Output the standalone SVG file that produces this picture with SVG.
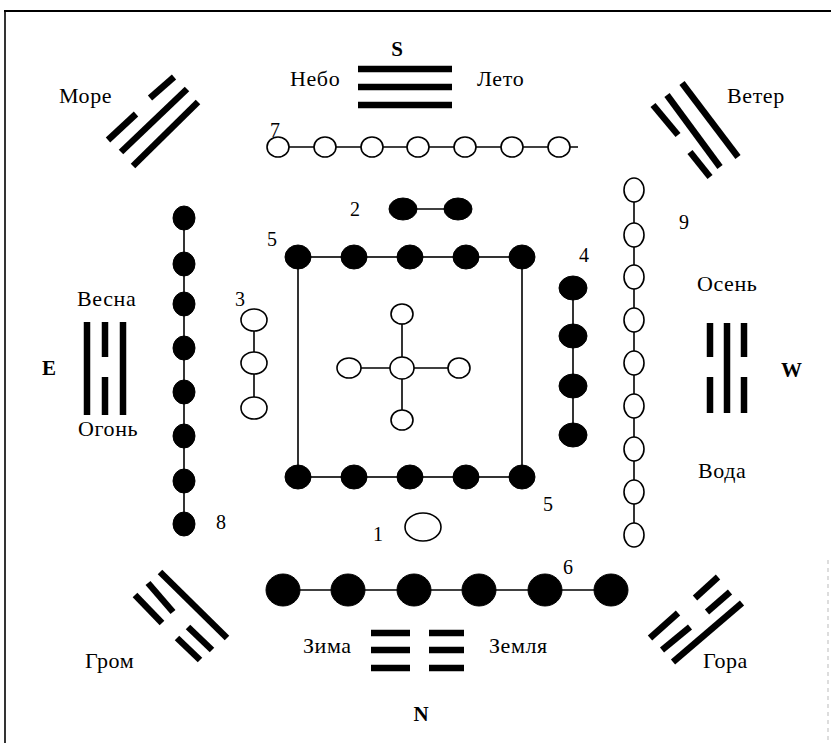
<svg xmlns="http://www.w3.org/2000/svg" width="831" height="743" viewBox="0 0 831 743">
<style>
text{font-family:"Liberation Serif","Times New Roman",serif;font-size:22px;letter-spacing:0.6px;fill:#000}
.b{font-weight:bold;font-size:21px;letter-spacing:0}
.n{font-size:20px;letter-spacing:0}
.o{fill:#fff;stroke:#000;stroke-width:1.6}
.f{fill:#000;stroke:#000;stroke-width:1}
.c{stroke:#000;stroke-width:1.6;fill:none}
.t{stroke:#000;stroke-width:6.5;stroke-linecap:butt;fill:none}
</style>
<rect width="831" height="743" fill="#fff"/>
<g id="frame">
<line x1="4" y1="11" x2="831" y2="11" stroke="#000" stroke-width="1.8"/>
<line x1="5" y1="11" x2="5" y2="743" stroke="#000" stroke-width="1.6"/>
<line x1="828" y1="560" x2="828" y2="743" stroke="#bbb" stroke-width="1" stroke-dasharray="4 4"/>
</g>
<g id="connectors">
<line class="c" x1="278" y1="147" x2="578" y2="147"/>
<line class="c" x1="403" y1="209" x2="458" y2="209"/>
<rect class="c" x="298" y="257" width="224" height="220"/>
<line class="c" x1="573" y1="288" x2="573" y2="435"/>
<line class="c" x1="254" y1="320" x2="254" y2="408"/>
<line class="c" x1="402" y1="314" x2="402" y2="420"/>
<line class="c" x1="349" y1="368" x2="459" y2="368"/>
<line class="c" x1="184" y1="218" x2="184" y2="524"/>
<line class="c" x1="634" y1="190" x2="634" y2="535"/>
<line class="c" x1="283" y1="590" x2="611" y2="590"/>
</g>
<g id="chain7">
<ellipse class="o" cx="278" cy="147" rx="11" ry="10"/>
<ellipse class="o" cx="325" cy="147" rx="11" ry="10"/>
<ellipse class="o" cx="372" cy="147" rx="11" ry="10"/>
<ellipse class="o" cx="418" cy="147" rx="11" ry="10"/>
<ellipse class="o" cx="465" cy="147" rx="11" ry="10"/>
<ellipse class="o" cx="512" cy="147" rx="11" ry="10"/>
<ellipse class="o" cx="559" cy="147" rx="11" ry="10"/>
</g>
<g id="chain2">
<ellipse class="f" cx="403" cy="209" rx="14" ry="11"/>
<ellipse class="f" cx="458" cy="209" rx="14" ry="11"/>
</g>
<g id="square5">
<ellipse class="f" cx="298" cy="257" rx="13" ry="12"/>
<ellipse class="f" cx="354" cy="257" rx="13" ry="12"/>
<ellipse class="f" cx="410" cy="257" rx="13" ry="12"/>
<ellipse class="f" cx="466" cy="257" rx="13" ry="12"/>
<ellipse class="f" cx="522" cy="257" rx="13" ry="12"/>
<ellipse class="f" cx="298" cy="477" rx="13" ry="12"/>
<ellipse class="f" cx="354" cy="477" rx="13" ry="12"/>
<ellipse class="f" cx="410" cy="477" rx="13" ry="12"/>
<ellipse class="f" cx="466" cy="477" rx="13" ry="12"/>
<ellipse class="f" cx="522" cy="477" rx="13" ry="12"/>
</g>
<g id="chain4">
<ellipse class="f" cx="573" cy="288" rx="14" ry="12"/>
<ellipse class="f" cx="573" cy="336" rx="14" ry="12"/>
<ellipse class="f" cx="573" cy="386" rx="14" ry="12"/>
<ellipse class="f" cx="573" cy="435" rx="14" ry="12"/>
</g>
<g id="chain3">
<ellipse class="o" cx="254" cy="320" rx="13" ry="11"/>
<ellipse class="o" cx="254" cy="363" rx="13" ry="11"/>
<ellipse class="o" cx="254" cy="408" rx="13" ry="11"/>
</g>
<g id="cross">
<ellipse class="o" cx="402" cy="314" rx="11" ry="10"/>
<ellipse class="o" cx="402" cy="420" rx="11" ry="10"/>
<ellipse class="o" cx="349" cy="368" rx="12" ry="10"/>
<ellipse class="o" cx="459" cy="368" rx="11" ry="10"/>
<ellipse class="o" cx="402" cy="368" rx="12" ry="11"/>
</g>
<g id="chain8">
<ellipse class="f" cx="184" cy="218" rx="11" ry="12"/>
<ellipse class="f" cx="184" cy="264" rx="11" ry="12"/>
<ellipse class="f" cx="184" cy="304" rx="11" ry="12"/>
<ellipse class="f" cx="184" cy="348" rx="11" ry="12"/>
<ellipse class="f" cx="184" cy="392" rx="11" ry="12"/>
<ellipse class="f" cx="184" cy="436" rx="11" ry="12"/>
<ellipse class="f" cx="184" cy="481" rx="11" ry="12"/>
<ellipse class="f" cx="184" cy="524" rx="11" ry="12"/>
</g>
<g id="chain9">
<ellipse class="o" cx="634" cy="190" rx="10" ry="12"/>
<ellipse class="o" cx="634" cy="235" rx="10" ry="12"/>
<ellipse class="o" cx="634" cy="277" rx="10" ry="12"/>
<ellipse class="o" cx="634" cy="320" rx="10" ry="12"/>
<ellipse class="o" cx="634" cy="363" rx="10" ry="12"/>
<ellipse class="o" cx="634" cy="406" rx="10" ry="12"/>
<ellipse class="o" cx="634" cy="449" rx="10" ry="12"/>
<ellipse class="o" cx="634" cy="492" rx="10" ry="12"/>
<ellipse class="o" cx="634" cy="535" rx="10" ry="12"/>
</g>
<g id="node1">
<ellipse class="o" cx="423" cy="527" rx="18" ry="14"/>
</g>
<g id="chain6">
<ellipse class="f" cx="283" cy="590" rx="17" ry="16"/>
<ellipse class="f" cx="348" cy="590" rx="17" ry="16"/>
<ellipse class="f" cx="414" cy="590" rx="17" ry="16"/>
<ellipse class="f" cx="479" cy="590" rx="17" ry="16"/>
<ellipse class="f" cx="545" cy="590" rx="17" ry="16"/>
<ellipse class="f" cx="611" cy="590" rx="17" ry="16"/>
</g>
<g id="trigram-s">
<line class="t" x1="358" y1="69" x2="452" y2="69"/>
<line class="t" x1="358" y1="87" x2="452" y2="87"/>
<line class="t" x1="358" y1="105" x2="452" y2="105"/>
</g>
<g id="trigram-n">
<line class="t" x1="371" y1="633" x2="410" y2="633"/>
<line class="t" x1="371" y1="650" x2="410" y2="650"/>
<line class="t" x1="371" y1="668" x2="410" y2="668"/>
<line class="t" x1="429" y1="633" x2="464" y2="633"/>
<line class="t" x1="429" y1="650" x2="464" y2="650"/>
<line class="t" x1="429" y1="668" x2="464" y2="668"/>
</g>
<g id="trigram-e">
<line class="t" x1="87" y1="322" x2="87" y2="415"/>
<line class="t" x1="105" y1="322" x2="105" y2="357"/>
<line class="t" x1="105" y1="377" x2="105" y2="415"/>
<line class="t" x1="123" y1="322" x2="123" y2="415"/>
</g>
<g id="trigram-w">
<line class="t" x1="710" y1="323" x2="710" y2="357"/>
<line class="t" x1="710" y1="377" x2="710" y2="413"/>
<line class="t" x1="727" y1="323" x2="727" y2="413"/>
<line class="t" x1="744" y1="323" x2="744" y2="357"/>
<line class="t" x1="744" y1="377" x2="744" y2="413"/>
</g>
<g id="trigram-more">
<line class="t" x1="150" y1="98" x2="174" y2="77"/>
<line class="t" x1="108" y1="140" x2="136" y2="114"/>
<line class="t" x1="121" y1="152" x2="187" y2="89"/>
<line class="t" x1="133" y1="166" x2="198" y2="102"/>
</g>
<g id="trigram-veter">
<line class="t" x1="653" y1="105" x2="678" y2="135"/>
<line class="t" x1="690" y1="152" x2="710" y2="177"/>
<line class="t" x1="667" y1="95" x2="720" y2="167"/>
<line class="t" x1="682" y1="83" x2="738" y2="157"/>
</g>
<g id="trigram-grom">
<line class="t" x1="160" y1="572" x2="227" y2="638"/>
<line class="t" x1="148" y1="583" x2="173" y2="612"/>
<line class="t" x1="188" y1="627" x2="212" y2="650"/>
<line class="t" x1="135" y1="595" x2="162" y2="623"/>
<line class="t" x1="177" y1="638" x2="200" y2="660"/>
</g>
<g id="trigram-gora">
<line class="t" x1="650" y1="638" x2="678" y2="613"/>
<line class="t" x1="695" y1="598" x2="718" y2="577"/>
<line class="t" x1="662" y1="650" x2="690" y2="627"/>
<line class="t" x1="707" y1="612" x2="730" y2="592"/>
<line class="t" x1="673" y1="662" x2="742" y2="603"/>
</g>
<g id="labels">
<text class="b" x="397" y="56" text-anchor="middle">S</text>
<text class="b" x="421" y="721" text-anchor="middle">N</text>
<text class="b" x="42" y="375">E</text>
<text class="b" x="781" y="377">W</text>
<text x="290" y="86">Небо</text>
<text x="477" y="86">Лето</text>
<text x="59" y="103">Море</text>
<text x="727" y="103">Ветер</text>
<text x="77" y="306">Весна</text>
<text x="697" y="291">Осень</text>
<text x="78" y="436">Огонь</text>
<text x="698" y="478">Вода</text>
<text x="303" y="653">Зима</text>
<text x="489" y="653">Земля</text>
<text x="85" y="668">Гром</text>
<text x="703" y="668">Гора</text>
<text class="n" x="270" y="137">7</text>
<text class="n" x="350" y="216">2</text>
<text class="n" x="267" y="246">5</text>
<text class="n" x="579" y="262">4</text>
<text class="n" x="679" y="229">9</text>
<text class="n" x="235" y="306">3</text>
<text class="n" x="216" y="529">8</text>
<text class="n" x="543" y="511">5</text>
<text class="n" x="373" y="541">1</text>
<text class="n" x="563" y="574">6</text>
</g>
</svg>
